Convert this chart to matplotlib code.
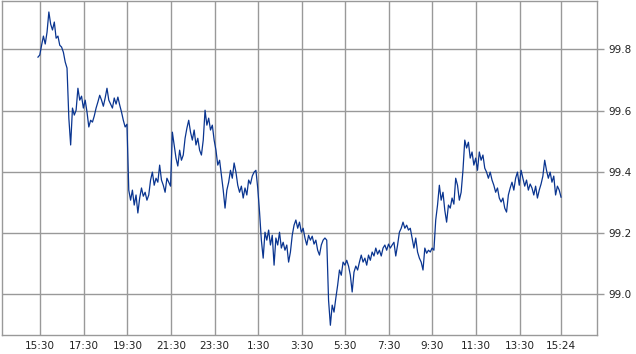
import matplotlib
matplotlib.use("Agg")
import matplotlib.pyplot as plt
import matplotlib.dates as mdates
import pandas as pd

start_time = "2024-01-01 15:24"
step = "5min"
prices = [
    99.775, 99.782, 99.814, 99.844, 99.818, 99.857, 99.923, 99.883, 99.864, 99.890,
    99.837, 99.844, 99.814, 99.808, 99.791, 99.759, 99.739, 99.575, 99.487, 99.608,
    99.585, 99.601, 99.673, 99.634, 99.647, 99.608, 99.634, 99.595, 99.546, 99.568,
    99.562, 99.582, 99.608, 99.628, 99.650, 99.634, 99.614, 99.641, 99.673, 99.634,
    99.621, 99.608, 99.641, 99.621, 99.644, 99.618, 99.595, 99.568, 99.546, 99.555,
    99.339, 99.306, 99.339, 99.290, 99.323, 99.264, 99.313, 99.346, 99.319, 99.332,
    99.306, 99.323, 99.372, 99.398, 99.355, 99.378, 99.365, 99.421, 99.372, 99.355,
    99.332, 99.378, 99.365, 99.352, 99.529, 99.487, 99.444, 99.418, 99.470, 99.437,
    99.454, 99.509, 99.542, 99.568, 99.529, 99.503, 99.536, 99.487, 99.509, 99.470,
    99.454, 99.503, 99.601, 99.552, 99.575, 99.536, 99.552, 99.503, 99.470, 99.421,
    99.437, 99.388, 99.339, 99.280, 99.339, 99.365, 99.404, 99.378, 99.428, 99.398,
    99.355, 99.332, 99.352, 99.313, 99.346, 99.323, 99.372, 99.359, 99.385, 99.398,
    99.404, 99.346, 99.267, 99.175, 99.116, 99.201, 99.175, 99.208, 99.159, 99.191,
    99.093, 99.182, 99.159, 99.201, 99.149, 99.168, 99.142, 99.159, 99.103, 99.136,
    99.191, 99.224, 99.241, 99.214, 99.234, 99.201, 99.214, 99.182, 99.159, 99.191,
    99.175, 99.188, 99.162, 99.175, 99.142, 99.126, 99.159, 99.175, 99.182, 99.175,
    98.978, 98.896, 98.962, 98.939, 98.985, 99.027, 99.077, 99.060, 99.103, 99.093,
    99.109, 99.090, 99.060, 99.005, 99.070, 99.090, 99.077, 99.103, 99.126, 99.103,
    99.116, 99.093, 99.126, 99.109, 99.136, 99.123, 99.149, 99.129, 99.142, 99.123,
    99.149, 99.159, 99.142, 99.162, 99.149, 99.159, 99.168, 99.123, 99.159, 99.201,
    99.214, 99.234, 99.214, 99.224, 99.208, 99.214, 99.182, 99.149, 99.182, 99.136,
    99.116, 99.103, 99.077, 99.149, 99.132, 99.142, 99.136, 99.149, 99.142, 99.241,
    99.290, 99.355, 99.306, 99.332, 99.273, 99.234, 99.290, 99.280, 99.313, 99.293,
    99.378, 99.355, 99.306, 99.332, 99.404, 99.503, 99.477, 99.496, 99.444, 99.464,
    99.421, 99.444, 99.404, 99.464, 99.437, 99.454, 99.411, 99.398, 99.378, 99.398,
    99.372, 99.355, 99.332, 99.346, 99.313, 99.300, 99.313, 99.280, 99.267, 99.323,
    99.346, 99.365, 99.339, 99.378, 99.398, 99.355, 99.404, 99.378, 99.352, 99.372,
    99.339, 99.359, 99.346, 99.323, 99.352, 99.313, 99.339, 99.359, 99.385, 99.437,
    99.404, 99.378, 99.398, 99.365, 99.385, 99.323, 99.352, 99.339, 99.316,
]
y_ticks = [99.0, 99.2, 99.4, 99.6, 99.8]
x_tick_first = "2024-01-01 15:30"
x_tick_count = 12
x_tick_freq = "2h"

times = pd.date_range(start_time, periods=len(prices), freq=step)
x_ticks = list(pd.date_range(x_tick_first, periods=x_tick_count, freq=x_tick_freq)) + [times[-1]]
x_labels = [f"{t.hour}:{t.minute:02d}" for t in x_ticks]

fig = plt.figure(figsize=(6.36, 3.54), dpi=100)
ax = fig.add_axes([2 / 636, 1 - 335 / 354, 595 / 636, 334 / 354])

ax.plot(times, prices, color="#0a3590", linewidth=0.9)

ax.set_xlim(pd.Timestamp("2024-01-01 13:45"), pd.Timestamp("2024-01-02 17:03"))
ax.set_ylim(98.864, 99.959)

ax.set_xticks(x_ticks)
ax.set_xticklabels(x_labels)
ax.set_yticks(y_ticks)
ax.set_yticklabels([f"{v:.1f}" for v in y_ticks])

ax.yaxis.tick_right()
ax.tick_params(axis="y", which="both", length=5, width=1, color="#999999",
               labelsize=7.5, labelcolor="#222222", pad=3)
ax.tick_params(axis="x", which="both", length=0, labelsize=7.5,
               labelcolor="#222222", pad=4)

ax.grid(True, color="#999999", linewidth=1.0)
ax.set_axisbelow(True)
for s in ax.spines.values():
    s.set_color("#999999")
    s.set_linewidth(1.0)

fig.savefig("out.png", dpi=100)
